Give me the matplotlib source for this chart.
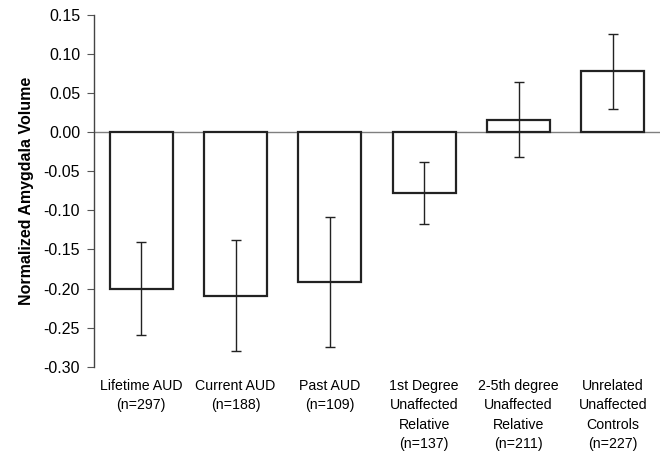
import matplotlib
matplotlib.use("Agg")
import matplotlib.pyplot as plt
import numpy as np

categories = ["Lifetime AUD\n(n=297)", "Current AUD\n(n=188)", "Past AUD\n(n=109)",
              "1st Degree\nUnaffected\nRelative\n(n=137)",
              "2-5th degree\nUnaffected\nRelative\n(n=211)",
              "Unrelated\nUnaffected\nControls\n(n=227)"]
values = [-0.200, -0.209, -0.192, -0.078, 0.016, 0.078]
errors = [0.060, 0.071, 0.083, 0.040, 0.048, 0.048]
yticks = [0.15, 0.10, 0.05, 0.00, -0.05, -0.10, -0.15, -0.20, -0.25, -0.30]

plt.rcParams['font.family'] = ['Liberation Sans', 'DejaVu Sans']

fig = plt.figure(figsize=(6.62, 4.51), dpi=100)
ax = fig.add_axes([94/662, 1-366.7/451, 566/662, (366.7-15)/451])

x = np.arange(len(categories))
ax.axhline(0, color='#7f7f7f', lw=1.0, zorder=1)
ax.bar(x, values, width=0.67, color='white', edgecolor='#222222', linewidth=1.6, zorder=2)
ax.errorbar(x, values, yerr=errors, fmt='none', ecolor='#222222', elinewidth=1.0,
            capsize=3.5, capthick=1.0, zorder=3)

ax.set_xlim(-0.5, 5.5)
ax.set_ylim(-0.30, 0.15)
ax.set_yticks(yticks)
ax.set_yticklabels([f"{t:.2f}" for t in yticks], fontsize=11.5)
ax.set_xticks(x)
ax.set_xticklabels(categories, fontsize=10.2, linespacing=1.47, va='top')
ax.tick_params(axis='x', length=0, pad=9)
ax.tick_params(axis='y', direction='out', length=5, width=0.8, color='#555555', pad=5)
for s in ['top', 'right', 'bottom']:
    ax.spines[s].set_visible(False)
ax.spines['left'].set_color('#444444')
ax.spines['left'].set_linewidth(1.0)
ax.set_ylabel("Normalized Amygdala Volume", fontsize=11.5, fontweight='bold', labelpad=7)

fig.savefig("out.png", dpi=100)
